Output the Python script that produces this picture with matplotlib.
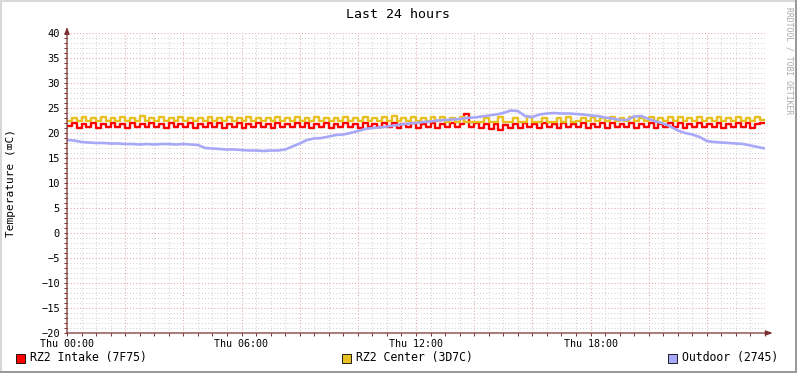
import numpy as np
import matplotlib
matplotlib.use("Agg")
import matplotlib.pyplot as plt
from matplotlib.lines import Line2D
from matplotlib.patches import Rectangle

plt.rcParams['font.family'] = ['DejaVu Sans Mono', 'DejaVu Sans']

# data (hours since Thu 00:00)
step_ry = 10 / 60.0   # 10 min samples for the two inside sensors
step_out = 15 / 60.0  # 15 min samples for outdoor

intake = [
    21.4, 22.0, 21.1, 21.9, 21.2, 22.0, 21.1, 21.8, 21.3, 22.1, 21.2, 21.9,
    21.1, 22.0, 21.2, 21.9, 21.3, 22.1, 21.2, 21.9, 21.1, 22.0, 21.3, 21.9,
    21.2, 22.0, 21.1, 21.9, 21.2, 22.0, 21.3, 22.1, 21.1, 21.9, 21.2, 22.0,
    21.1, 21.9, 21.3, 22.0, 21.2, 21.9, 21.1, 22.1, 21.2, 21.9, 21.3, 22.0,
    21.2, 22.0, 21.1, 21.9, 21.2, 22.0, 21.1, 21.9, 21.3, 22.0, 21.2, 21.9,
    21.1, 22.0, 21.2, 21.9, 21.3, 22.1, 21.2, 22.0, 21.1, 21.9, 21.2, 22.0,
    21.1, 21.9, 21.2, 22.0, 21.1, 21.9, 21.2, 22.0, 21.3, 21.9, 23.8, 21.2,
    22.0, 21.1, 21.9, 20.9, 21.8, 20.6, 21.7, 21.0, 21.9, 21.1, 22.0, 21.2,
    21.9, 21.1, 22.0, 21.2, 21.9, 21.1, 22.0, 21.3, 21.9, 21.2, 22.0, 21.1,
    21.9, 21.2, 22.0, 21.1, 22.1, 21.2, 21.9, 21.3, 22.0, 21.1, 21.9, 21.2,
    22.0, 21.1, 21.9, 21.2, 22.1, 21.3, 22.0, 21.1, 21.9, 21.2, 22.0, 21.3,
    21.9, 21.2, 22.0, 21.1, 21.9, 21.3, 22.1, 21.2, 22.0, 21.1, 21.9, 22.0,
]

center = [
    22.5, 23.1, 22.4, 23.2, 22.5, 23.0, 22.4, 23.3, 22.5, 23.1, 22.4, 23.2,
    22.5, 23.1, 22.4, 23.4, 22.5, 23.0, 22.4, 23.2, 22.5, 23.1, 22.4, 23.3,
    22.4, 23.1, 22.5, 23.0, 22.4, 23.2, 22.5, 23.1, 22.4, 23.3, 22.5, 23.1,
    22.4, 23.2, 22.5, 23.1, 22.4, 23.0, 22.5, 23.2, 22.4, 23.1, 22.5, 23.3,
    22.4, 23.1, 22.5, 23.2, 22.4, 23.0, 22.5, 23.1, 22.4, 23.2, 22.5, 23.1,
    22.4, 23.3, 22.5, 23.1, 22.4, 23.2, 22.5, 23.4, 22.4, 23.1, 22.5, 23.2,
    22.4, 23.1, 22.5, 23.3, 22.4, 23.2, 22.3, 23.0, 22.3, 23.3, 22.3, 22.2,
    22.2, 22.3, 23.1, 22.2, 22.2, 23.2, 22.2, 22.3, 23.1, 22.2, 22.3, 23.2,
    22.3, 22.2, 23.1, 22.3, 22.2, 23.0, 22.3, 23.2, 22.3, 22.4, 23.1, 22.4,
    23.2, 22.4, 23.1, 22.5, 23.3, 22.4, 23.1, 22.5, 23.2, 22.4, 23.1, 22.5,
    23.2, 22.4, 23.1, 22.5, 23.3, 22.4, 23.2, 22.5, 23.1, 22.4, 23.2, 22.5,
    23.1, 22.4, 23.3, 22.5, 23.1, 22.4, 23.2, 22.5, 23.1, 22.4, 23.2, 22.6,
]

outdoor = [
    18.6, 18.5, 18.2, 18.1, 18.0, 18.0, 17.9, 17.9,
    17.8, 17.8, 17.7, 17.8, 17.7, 17.8, 17.8, 17.7,
    17.8, 17.7, 17.6, 17.0, 16.9, 16.8, 16.7, 16.7,
    16.6, 16.5, 16.5, 16.4, 16.5, 16.5, 16.7, 17.3,
    17.9, 18.6, 18.9, 19.0, 19.3, 19.6, 19.7, 20.0,
    20.4, 20.8, 21.0, 21.1, 21.3, 21.5, 21.7, 21.9,
    22.0, 22.2, 22.3, 22.5, 22.6, 22.7, 22.8, 23.0,
    23.1, 23.3, 23.5, 23.7, 24.0, 24.5, 24.4, 23.4,
    23.2, 23.7, 23.9, 24.0, 23.9, 23.9, 23.8, 23.7,
    23.5, 23.4, 23.1, 22.9, 22.6, 22.6, 23.3, 23.4,
    22.8, 22.3, 21.9, 21.3, 20.5, 20.0, 19.7, 19.2,
    18.4, 18.2, 18.1, 18.0, 17.9, 17.8, 17.5, 17.2,
    16.9,
]

series_names = ["RZ2 Intake (7F75)", "RZ2 Center (3D7C)", "Outdoor (2745)"]
series_colors = ["#FF0000", "#E8C020", "#A8A8F8"]
xtick_hours = [0, 6, 12, 18]
xtick_labels = ["Thu 00:00", "Thu 06:00", "Thu 12:00", "Thu 18:00"]

W, H = 797, 373
fig = plt.figure(figsize=(W / 100, H / 100), dpi=100)
fig.patch.set_facecolor("white")

# 3d-ish frame round the picture
fig.add_artist(Line2D([0, 1], [1 - 1 / H, 1 - 1 / H], color="#D8D8D8", lw=1.5))
fig.add_artist(Line2D([0.5 / W, 0.5 / W], [0, 1], color="#D8D8D8", lw=1.5))
fig.add_artist(Line2D([0, 1], [1.5 / H, 1.5 / H], color="#9A9A9A", lw=2.2))
fig.add_artist(Line2D([1 - 1.5 / W, 1 - 1.5 / W], [0, 1], color="#9A9A9A", lw=2.2))

ax = fig.add_axes([67 / W, (H - 333) / H, 698 / W, 300 / H])
ax.set_xlim(0, 24)
ax.set_ylim(-20, 40)
for s in ax.spines.values():
    s.set_visible(False)

# grid
for h in np.arange(0.5, 24, 0.5):
    major = abs(h / 2 - round(h / 2)) < 1e-9
    ax.axvline(h, color="#E4A8A8" if major else "#D4D4D4", lw=0.75,
               ls=(0, (1, 2)), zorder=0)
for v in range(-19, 41):
    major = v % 5 == 0
    ax.axhline(v, color="#E4A8A8" if major else "#D4D4D4", lw=0.75,
               ls=(0, (1, 2)), zorder=0)

t_ry = np.arange(len(intake) + 1) * step_ry
t_out = np.arange(len(outdoor)) * step_out
ax.plot(t_ry, intake + intake[-1:], drawstyle="steps-post", color=series_colors[0], lw=1.7, zorder=3)
ax.plot(t_ry, center + center[-1:], drawstyle="steps-post", color=series_colors[1], lw=1.7, zorder=3)
ax.plot(t_out, outdoor, color=series_colors[2], lw=1.9, zorder=4)

# ticks
ax.set_yticks(range(-20, 41, 5))
ax.set_yticks(range(-20, 41, 1), minor=True)
ax.set_xticks(xtick_hours)
ax.set_xticklabels(xtick_labels)
ax.set_xticks(np.arange(0, 24.01, 0.5), minor=True)
ax.tick_params(axis="both", which="both", length=2, width=0.7, color="#7A3030",
               direction="out")
ax.tick_params(axis="y", which="major", pad=3, labelsize=7.5)
ax.tick_params(axis="x", which="major", pad=2.5, labelsize=7.2)

# axis lines with arrows
ax.annotate("", xy=(1.011, 0), xytext=(0, 0), xycoords="axes fraction",
            arrowprops=dict(arrowstyle="-|>,head_length=0.4,head_width=0.15",
                            color="#7A3030", lw=0.9, shrinkA=0, shrinkB=0),
            annotation_clip=False, zorder=5)
ax.annotate("", xy=(0, 1.02), xytext=(0, 0), xycoords="axes fraction",
            arrowprops=dict(arrowstyle="-|>,head_length=0.4,head_width=0.15",
                            color="#7A3030", lw=0.9, shrinkA=0, shrinkB=0),
            annotation_clip=False, zorder=5)

fig.text(398 / W, 1 - 14 / H, "Last 24 hours", ha="center", va="center", fontsize=9.5)
fig.text(11 / W, 1 - 183 / H, "Temperature (\u2327C)", ha="center", va="center",
         rotation=90, fontsize=8)
fig.text(789 / W, 1 - 61 / H, "RRDTOOL / TOBI OETIKER", ha="center", va="center",
         rotation=270, fontsize=5.8, color="#A8A8A8")

# legend
legend_x = [16, 342, 668]
for lx, name, col in zip(legend_x, series_names, series_colors):
    fig.add_artist(Rectangle((lx / W, 1 - 363 / H), 9 / W, 9 / H, facecolor=col,
                             edgecolor="black", lw=0.6, transform=fig.transFigure))
    fig.text((lx + 14) / W, 1 - 358 / H, name, ha="left", va="center", fontsize=8.3)

fig.savefig("out.png", dpi=100)
